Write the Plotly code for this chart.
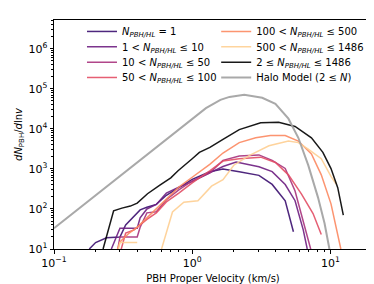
import plotly.graph_objects as go

# ---- data ----
v_n1 = [0.18, 0.20, 0.24, 0.30, 0.33, 0.37, 0.42, 0.47, 0.55, 0.65, 0.80, 1.0, 1.34, 1.67, 2.19, 3.04, 3.79, 4.71, 5.4]
y_n1 = [10, 14.5, 19, 20, 40, 60, 95, 110, 130, 220, 350, 550, 850, 1000, 850, 690, 410, 160, 27]

v_n10 = [0.26, 0.30, 0.35, 0.40, 0.42, 0.47, 0.55, 0.65, 0.80, 1.0, 1.34, 1.67, 2.08, 3.04, 3.79, 4.71, 5.55, 6.36, 6.8, 7.2]
y_n10 = [10, 33, 33, 33, 60, 100, 130, 250, 350, 480, 800, 1150, 1490, 1130, 855, 408, 161, 30, 10, 5]

v_n50 = [0.28, 0.30, 0.35, 0.40, 0.42, 0.47, 0.55, 0.65, 0.80, 1.0, 1.34, 1.67, 2.19, 3.04, 3.79, 4.71, 5.55, 6.36, 7.29, 7.6]
y_n50 = [5, 20, 20, 20, 35, 80, 85, 170, 300, 500, 800, 1640, 2100, 2240, 1640, 1030, 281, 53, 10, 5]

v_n100 = [0.29, 0.33, 0.38, 0.42, 0.47, 0.55, 0.65, 0.80, 1.0, 1.34, 1.67, 2.19, 3.13, 4.0, 4.97, 6.18, 7.49, 8.59]
y_n100 = [5, 25, 30, 40, 55, 80, 150, 250, 450, 900, 1570, 1800, 1970, 1450, 711, 234, 77, 23]

v_n500 = [0.27, 0.30, 0.35, 0.40, 0.47, 0.55, 0.65, 0.80, 1.0, 1.34, 1.67, 2.19, 2.88, 3.68, 4.71, 5.86, 7.29, 8.59, 10.1, 11.3, 11.9]
y_n500 = [5, 15, 25, 35, 60, 100, 170, 350, 620, 1300, 2500, 4540, 6000, 6830, 6830, 4980, 2370, 711, 134, 25, 10]

v_n1486 = [0.28, 0.30, 0.35, 0.40, 0.42, 0.60, 0.72, 0.87, 1.10, 1.38, 1.67, 2.0, 2.58, 3.59, 4.97, 5.86, 6.91, 8.59, 10.1, 11.0]
y_n1486 = [5, 14.5, 14.5, 14.5, None, 10, 84, 147, 161, 372, 538, 1240, 2160, 3780, 4980, 4540, 3130, 1800, 650, 420]

v_all = [0.2265, 0.247, 0.27, 0.31, 0.357, 0.40, 0.475, 0.58, 0.70, 0.79, 0.90, 1.0, 1.127, 1.343, 1.67, 2.19, 3.13, 4.22, 5.55, 7.29, 8.82, 10.1, 11.3, 12.4]
y_all = [10, 30, 90, 105, 118, 140, 240, 390, 600, 900, 1300, 1800, 2600, 3440, 5500, 9600, 14300, 14600, 11500, 6000, 2600, 1020, 340, 70]

v_halo = [0.1, 0.142, 0.249, 0.439, 0.689, 1.0, 1.257, 1.6, 1.86, 2.38, 3.21, 4.0, 4.97, 5.86, 6.91, 8.13, 9.07, 9.84, 10.3]
y_halo = [33, 86, 400, 1860, 6400, 18500, 33000, 53000, 63000, 71000, 60000, 42000, 18000, 6000, 1240, 195, 44, 10, 5]

x_tickvals = [0.1, 1, 10]
x_ticktext = ["10<sup>\u22121</sup>", "10<sup>0</sup>", "10<sup>1</sup>"]
y_tickvals = [10, 100, 1e3, 1e4, 1e5, 1e6]
y_ticktext = ["10<sup>1</sup>", "10<sup>2</sup>", "10<sup>3</sup>", "10<sup>4</sup>", "10<sup>5</sup>", "10<sup>6</sup>"]

NS = "<i>N</i><sub><i>PBH/HL</i></sub>"
series = [
    (v_n1, y_n1, f"{NS} = 1", "#3b0f70", 1.5),
    (v_n10, y_n10, f"1 &lt; {NS} \u2264 10", "#6e1e81", 1.5),
    (v_n50, y_n50, f"10 &lt; {NS} \u2264 50", "#a8327d", 1.5),
    (v_n100, y_n100, f"50 &lt; {NS} \u2264 100", "#e34e65", 1.5),
    (v_n500, y_n500, f"100 &lt; {NS} \u2264 500", "#fc8961", 1.5),
    (v_n1486, y_n1486, f"500 &lt; {NS} \u2264 1486", "#fecf92", 1.5),
    (v_all, y_all, f"2 \u2264 {NS} \u2264 1486", "#000000", 1.5),
    (v_halo, y_halo, "Halo Model (2 \u2264 <i>N</i>)", "#a0a0a0", 2.0),
]

fig = go.Figure()
legend_layout = {}
leg_common = dict(font=dict(family="DejaVu Sans", size=10), bgcolor="rgba(0,0,0,0)",
                  yanchor="middle", xanchor="left", itemwidth=30, visible=True)
col_x = [0.088, 0.51]
row_y = [0.95, 0.883, 0.816, 0.749]
for i, (xs, ys, name, col, w) in enumerate(series):
    lg = "legend" if i == 0 else f"legend{i + 1}"
    fig.add_trace(go.Scatter(x=xs, y=ys, mode="lines", name=name, showlegend=True,
                             line=dict(color=col, width=w), opacity=0.9,
                             connectgaps=False, legend=lg))
    legend_layout[lg] = dict(x=col_x[i // 4], y=row_y[i % 4], **leg_common)

axis_common = dict(type="log", showline=True, linecolor="black", linewidth=1, mirror=True,
                   ticks="outside", ticklen=3.5, tickwidth=1, tickcolor="black",
                   showgrid=False, zeroline=False, tickfont=dict(family="DejaVu Sans", size=11),
                   minor=dict(ticks="outside", ticklen=2, tickcolor="black", dtick="D1", showgrid=False))

fig.update_xaxes(range=[-1, 1.301], tickvals=x_tickvals, ticktext=x_ticktext,
                 title=dict(text="PBH Proper Velocity (km/s)", font=dict(family="DejaVu Sans", size=10), standoff=6),
                 **axis_common)
fig.update_yaxes(range=[1, 6.72], tickvals=y_tickvals, ticktext=y_ticktext,
                 title=dict(text="<i>dN</i><sub>PBH</sub>/<i>d</i>ln<i>v</i>", font=dict(family="DejaVu Sans", size=10), standoff=3),
                 **axis_common)

fig.update_layout(
    width=374, height=284,
    margin=dict(l=46, r=10, t=9, b=37),
    plot_bgcolor="white", paper_bgcolor="white",
    showlegend=True,
    font=dict(family="DejaVu Sans", size=10, color="black"),
    **legend_layout,
)

fig.write_html("out.html")
